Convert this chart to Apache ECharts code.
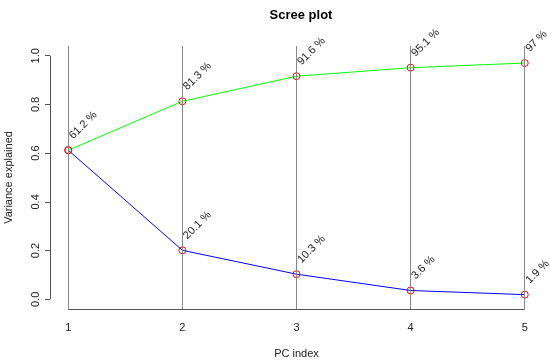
<!DOCTYPE html>
<html><head><meta charset="utf-8">
<script src="https://cdn.jsdelivr.net/npm/echarts@6/dist/echarts.min.js"></script>
<style>html,body{margin:0;padding:0;background:#fff}#c{width:550px;height:362px}</style>
</head><body><div id="c"></div>
<script>
const pcIndex = [1, 2, 3, 4, 5];
const varExplained = [0.612, 0.201, 0.103, 0.036, 0.019];
const cumExplained = [0.612, 0.813, 0.916, 0.951, 0.970];
const varLabels = ['61.2 %', '20.1 %', '10.3 %', '3.6 %', '1.9 %'];
const cumLabels = ['61.2 %', '81.3 %', '91.6 %', '95.1 %', '97 %'];
const yTicks = [0, 0.2, 0.4, 0.6, 0.8, 1.0];

const xMin = 0.84, xMax = 5.16, yMin = -0.04, yMax = 1.04;
const font = 'Liberation Sans, Arial, sans-serif';

function pts(vals, labs, skipFirst) {
  return vals.map((v, i) => {
    const d = { value: [pcIndex[i], v], labelText: labs[i] };
    if (skipFirst && i === 0) d.label = { show: false };
    return d;
  });
}
const labelCfg = {
  show: true, position: 'top', distance: 6, offset: [4, 0], rotate: 45, align: 'left', verticalAlign: 'middle',
  fontSize: 11, fontFamily: font, color: '#222',
  formatter: p => p.data.labelText
};
const chart = echarts.init(document.getElementById('c'), null, { renderer: 'canvas' });
chart.setOption({
  animation: false,
  title: { text: 'Scree plot', left: 296, textAlign: 'center', top: 4,
    textStyle: { fontSize: 13, fontWeight: 'bold', fontFamily: font, color: '#000' } },
  grid: { left: 50, right: 7, top: 46, bottom: 53, containLabel: false, outerBoundsMode: 'none' },
  xAxis: {
    type: 'value', min: xMin, max: xMax,
    name: 'PC index', nameLocation: 'middle', nameGap: 39,
    nameTextStyle: { fontSize: 11, fontFamily: font, color: '#222' },
    axisLine: { show: false },
    axisTick: { show: true, customValues: pcIndex, length: 4, lineStyle: { color: '#555' } },
    axisLabel: { customValues: pcIndex, margin: 13, fontSize: 11, fontFamily: font, color: '#222' },
    splitLine: { show: false }
  },
  yAxis: {
    type: 'value', min: yMin, max: yMax,
    name: 'Variance explained', nameLocation: 'middle', nameGap: 36, nameRotate: 90,
    nameTextStyle: { fontSize: 11, fontFamily: font, color: '#222' },
    axisLine: { show: false },
    axisTick: { show: true, customValues: yTicks, length: 5, lineStyle: { color: '#555' } },
    axisLabel: { customValues: yTicks, rotate: 90, margin: 9, fontSize: 11, fontFamily: font, color: '#222',
      formatter: v => v.toFixed(1) },
    splitLine: { show: false }
  },
  series: [
    {
      type: 'line', data: [], z: 1, silent: true,
      markLine: {
        silent: true, symbol: 'none', label: { show: false }, animation: false,
        lineStyle: { color: '#888', width: 1, type: 'solid' },
        data: pcIndex.map(p => ({ xAxis: p }))
      }
    },
    {
      type: 'line', data: [], z: 1, silent: true,
      markLine: {
        silent: true, symbol: 'none', label: { show: false }, animation: false,
        lineStyle: { color: '#555', width: 1, type: 'solid' },
        data: [
          [{ coord: [pcIndex[0], yMin] }, { coord: [pcIndex[pcIndex.length - 1], yMin] }],
          [{ coord: [xMin, yTicks[0]] }, { coord: [xMin, yTicks[yTicks.length - 1]] }]
        ]
      }
    },
    {
      type: 'line', data: pts(varExplained, varLabels, true), z: 3,
      lineStyle: { color: '#0000ff', width: 1 },
      symbol: 'circle', symbolSize: 7,
      itemStyle: { color: 'rgba(255,255,255,0)', borderColor: '#ff0000', borderWidth: 1 },
      label: labelCfg
    },
    {
      type: 'line', data: pts(cumExplained, cumLabels, false), z: 3,
      lineStyle: { color: '#00ff00', width: 1 },
      symbol: 'circle', symbolSize: 7,
      itemStyle: { color: 'rgba(255,255,255,0)', borderColor: '#ff0000', borderWidth: 1 },
      label: labelCfg
    }
  ]
});
</script></body></html>
